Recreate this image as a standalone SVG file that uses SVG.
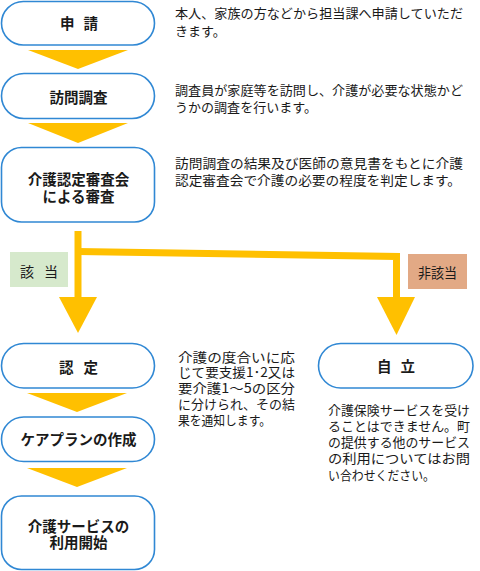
<svg xmlns="http://www.w3.org/2000/svg" width="480" height="571" viewBox="0 0 480 571">
<style>
.node{fill:#fff;stroke:#3088D4;stroke-width:1.6}
.nt{font-family:"Noto Sans CJK JP","Noto Sans",sans-serif;font-size:14.5px;font-weight:bold;fill:#1a1a1a;text-anchor:middle}
.dt{font-family:"Noto Sans CJK JP","Noto Sans",sans-serif;font-size:13px;fill:#1a1a1a}
.tri{fill:#FFC000}
.bar{fill:none;stroke:#FFC000;stroke-width:7;stroke-linejoin:miter}
.lt{font-family:"Noto Sans CJK JP","Noto Sans",sans-serif;font-size:14px;fill:#1a1a1a}
</style>
<rect width="480" height="571" fill="#fff"/>
<g id="connectors">
<polygon class="tri" points="28,50 128,50 78,69"/>
<polygon class="tri" points="28,123 128,123 78,143"/>
<polygon class="tri" points="27,393 127,393 77,412"/>
<polygon class="tri" points="27,468 127,468 77,487"/>
<line class="bar" x1="78" y1="231" x2="78" y2="299"/>
<polygon class="tri" points="59,297 97,297 78,333"/>
<polyline class="bar" points="78,251.5 396.5,256.5 396.5,299"/>
<polygon class="tri" points="377,297 415,297 396.5,335"/>
</g>
<g id="label-gaito">
<rect x="10" y="252" width="58" height="35" fill="#D6E9CC"/>
<text class="lt" x="20" y="277" textLength="38" lengthAdjust="spacing">該 当</text>
</g>
<g id="label-higaito">
<rect x="408" y="254" width="59" height="35" fill="#E2A985"/>
<text class="lt" x="418" y="278" font-size="13px" textLength="39" lengthAdjust="spacingAndGlyphs">非該当</text>
</g>
<g id="node-shinsei">
<rect class="node" x="1.5" y="1.5" width="153" height="43.5" rx="21.75"/>
<text class="nt" x="79" y="29" textLength="38" lengthAdjust="spacing">申 請</text>
</g>
<g id="node-houmon">
<rect class="node" x="1.5" y="73.5" width="153" height="45" rx="22.5"/>
<text class="nt" x="78.5" y="103">訪問調査</text>
</g>
<g id="node-shinsa">
<rect class="node" x="1.5" y="147.5" width="153" height="74.5" rx="20"/>
<text class="nt" x="78.5" y="185">介護認定審査会</text>
<text class="nt" x="78.5" y="202">による審査</text>
</g>
<g id="node-nintei">
<rect class="node" x="1.5" y="343.5" width="153" height="44.5" rx="22.25"/>
<text class="nt" x="78.5" y="373" textLength="39" lengthAdjust="spacing">認 定</text>
</g>
<g id="node-careplan">
<rect class="node" x="1.5" y="417" width="153" height="44.5" rx="22.25"/>
<text class="nt" x="78.5" y="445">ケアプランの作成</text>
</g>
<g id="node-service">
<rect class="node" x="1.5" y="496" width="153" height="73.5" rx="20"/>
<text class="nt" x="78.5" y="532">介護サービスの</text>
<text class="nt" x="78.5" y="548">利用開始</text>
</g>
<g id="node-jiritsu">
<rect class="node" x="318.5" y="343.5" width="154.5" height="44.5" rx="22.25"/>
<text class="nt" x="396" y="372" textLength="38" lengthAdjust="spacing">自 立</text>
</g>
<g id="desc-1">
<text class="dt" x="175" y="18" textLength="288" lengthAdjust="spacingAndGlyphs">本人、家族の方などから担当課へ申請していただ</text>
<text class="dt" x="175" y="36">きます。</text>
</g>
<g id="desc-2">
<text class="dt" x="175" y="95" textLength="288" lengthAdjust="spacingAndGlyphs">調査員が家庭等を訪問し、介護が必要な状態かど</text>
<text class="dt" x="175" y="112" textLength="142" lengthAdjust="spacingAndGlyphs">うかの調査を行います。</text>
</g>
<g id="desc-3">
<text class="dt" x="175" y="168" textLength="288" lengthAdjust="spacingAndGlyphs">訪問調査の結果及び医師の意見書をもとに介護</text>
<text class="dt" x="175" y="185" textLength="286" lengthAdjust="spacingAndGlyphs">認定審査会で介護の必要の程度を判定します。</text>
</g>
<g id="desc-4">
<text class="dt" x="178" y="362" textLength="117" lengthAdjust="spacingAndGlyphs">介護の度合いに応</text>
<text class="dt" x="178" y="377" textLength="117" lengthAdjust="spacingAndGlyphs">じて要支援1･2又は</text>
<text class="dt" x="178" y="393" textLength="117" lengthAdjust="spacingAndGlyphs">要介護1～5の区分</text>
<text class="dt" x="178" y="409" textLength="117" lengthAdjust="spacingAndGlyphs">に分けられ、その結</text>
<text class="dt" x="178" y="425" textLength="93" lengthAdjust="spacingAndGlyphs">果を通知します。</text>
</g>
<g id="desc-5">
<text class="dt" x="328" y="415" textLength="142" lengthAdjust="spacingAndGlyphs">介護保険サービスを受け</text>
<text class="dt" x="328" y="431" textLength="142" lengthAdjust="spacingAndGlyphs">ることはできません。町</text>
<text class="dt" x="328" y="447" textLength="142" lengthAdjust="spacingAndGlyphs">の提供する他のサービス</text>
<text class="dt" x="328" y="463" textLength="142" lengthAdjust="spacingAndGlyphs">の利用についてはお問</text>
<text class="dt" x="328" y="480" textLength="107" lengthAdjust="spacingAndGlyphs">い合わせください。</text>
</g>
</svg>
